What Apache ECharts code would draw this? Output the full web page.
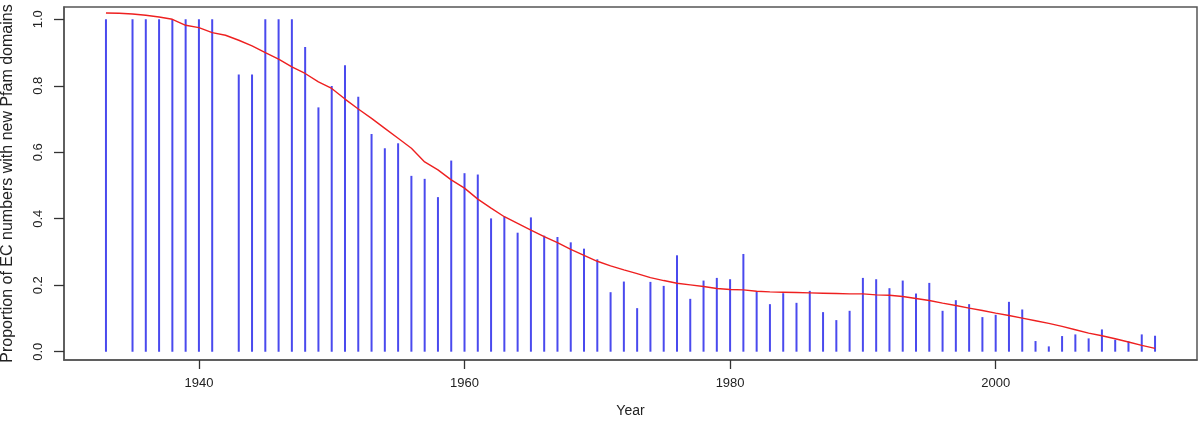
<!DOCTYPE html>
<html>
<head>
<meta charset="utf-8">
<script src="https://cdn.jsdelivr.net/npm/echarts@6/dist/echarts.min.js"></script>
<style>
  html, body { margin: 0; padding: 0; background: #fff; }
  #chart { width: 1200px; height: 426px; }
</style>
</head>
<body>
<div id="chart"></div>
<script>
// proportion per year (vertical lines)
const barYears = [1933, 1935, 1936, 1937, 1938, 1939, 1940, 1941,
  1943, 1944, 1945, 1946, 1947, 1948, 1949, 1950, 1951, 1952, 1953, 1954,
  1955, 1956, 1957, 1958, 1959, 1960, 1961, 1962, 1963, 1964, 1965, 1966,
  1967, 1968, 1969, 1970, 1971, 1972, 1973, 1974, 1975, 1976, 1977, 1978,
  1979, 1980, 1981, 1982, 1983, 1984, 1985, 1986, 1987, 1988, 1989, 1990,
  1991, 1992, 1993, 1994, 1995, 1996, 1997, 1998, 1999, 2000, 2001, 2002,
  2003, 2004, 2005, 2006, 2007, 2008, 2009, 2010, 2011, 2012];
const barValues = [1.0, 1.0, 1.0, 1.0, 1.0, 1.0, 1.0, 1.0,
  0.834, 0.834, 1.0, 1.0, 1.0, 0.917, 0.735, 0.799, 0.862, 0.767, 0.655, 0.612,
  0.627, 0.529, 0.520, 0.465, 0.575, 0.537, 0.533, 0.401, 0.406, 0.358, 0.404, 0.349,
  0.345, 0.329, 0.310, 0.278, 0.179, 0.211, 0.131, 0.210, 0.198, 0.290, 0.159, 0.214,
  0.222, 0.218, 0.294, 0.180, 0.143, 0.176, 0.147, 0.183, 0.119, 0.095, 0.123, 0.222,
  0.218, 0.191, 0.214, 0.175, 0.207, 0.123, 0.155, 0.143, 0.104, 0.111, 0.150, 0.127,
  0.032, 0.016, 0.047, 0.052, 0.040, 0.067, 0.036, 0.031, 0.052, 0.048];

// smoothed trend (red)
const trendYears = [1933, 1934, 1935, 1936, 1937, 1938, 1939, 1940, 1941, 1942,
  1943, 1944, 1945, 1946, 1947, 1948, 1949, 1950, 1951, 1952,
  1953, 1954, 1955, 1956, 1957, 1958, 1959, 1960, 1961, 1962,
  1963, 1964, 1965, 1966, 1967, 1968, 1969, 1970, 1971, 1972,
  1973, 1974, 1975, 1976, 1977, 1978, 1979, 1980, 1981, 1982,
  1983, 1984, 1985, 1986, 1987, 1988, 1989, 1990, 1991, 1992,
  1993, 1994, 1995, 1996, 1997, 1998, 1999, 2000, 2001, 2002,
  2003, 2004, 2005, 2006, 2007, 2008, 2009, 2010, 2011, 2012];
const trendValues = [1.019, 1.018, 1.016, 1.012, 1.007, 1.0, 0.982, 0.975, 0.96, 0.952,
  0.937, 0.92, 0.9, 0.88, 0.857, 0.837, 0.812, 0.792, 0.76, 0.73,
  0.702, 0.672, 0.642, 0.612, 0.571, 0.547, 0.517, 0.492, 0.459, 0.432,
  0.406, 0.386, 0.366, 0.346, 0.328, 0.308, 0.29, 0.272, 0.258, 0.246,
  0.235, 0.223, 0.214, 0.206, 0.201, 0.196, 0.190, 0.187, 0.186, 0.182,
  0.180, 0.179, 0.178, 0.177, 0.176, 0.175, 0.174, 0.174, 0.171, 0.170,
  0.166, 0.160, 0.154, 0.146, 0.139, 0.131, 0.124, 0.116, 0.109, 0.101,
  0.093, 0.085, 0.076, 0.066, 0.056, 0.048, 0.039, 0.029, 0.019, 0.010];

const xTicks = [1940, 1960, 1980, 2000];
const yTicks = [0, 0.2, 0.4, 0.6, 0.8, 1.0];

const chart = echarts.init(document.getElementById("chart"));
const font = "Liberation Sans, Arial, sans-serif";

const option = {
  animation: false,
  backgroundColor: "#fff",
  grid: {
    left: 64, right: 3, top: 7, bottom: 66,
    outerBoundsMode: "none",
    containLabel: false,
    show: true, borderColor: "#555", borderWidth: 1.5,
  },
  xAxis: {
    type: "value",
    min: 1929.84,
    max: 2015.16,
    name: "Year",
    nameLocation: "middle",
    nameGap: 44,
    nameMoveOverlap: false,
    nameTextStyle: { fontFamily: font, fontSize: 14, color: "#222" },
    axisLine: { show: true, onZero: false, lineStyle: { color: "#555", width: 1.5 } },
    splitLine: { show: false },
    axisTick: { show: true, inside: false, length: 9, lineStyle: { color: "#333", width: 1.3 }, customValues: xTicks },
    axisLabel: {
      fontFamily: font, fontSize: 13, color: "#222", margin: 17,
      customValues: xTicks,
      formatter: (v) => String(v),
    },
  },
  yAxis: {
    type: "value",
    min: -0.025,
    max: 1.037,
    name: "Proportion of EC numbers with new Pfam domains",
    nameLocation: "middle",
    nameGap: 48,
    nameRotate: 90,
    nameMoveOverlap: false,
    nameTextStyle: { fontFamily: font, fontSize: 16, color: "#222" },
    axisLine: { show: true, onZero: false, lineStyle: { color: "#555", width: 1.5 } },
    splitLine: { show: false },
    axisTick: { show: true, inside: false, length: 10, lineStyle: { color: "#333", width: 1.3 }, customValues: yTicks },
    axisLabel: {
      fontFamily: font, fontSize: 13, color: "#222", margin: 19, rotate: 90,
      customValues: yTicks,
      formatter: (v) => v.toFixed(1),
    },
  },
  series: [
    {
      type: "bar",
      barWidth: 2,
      itemStyle: { color: "#4a4aee" },
      data: barYears.map((y, i) => [y, barValues[i]]),
    },
    {
      type: "line",
      showSymbol: false,
      lineStyle: { color: "#ee2020", width: 1.4 },
      data: trendYears.map((y, i) => [y, trendValues[i]]),
    },
  ],
};
chart.setOption(option);
</script>
</body>
</html>
